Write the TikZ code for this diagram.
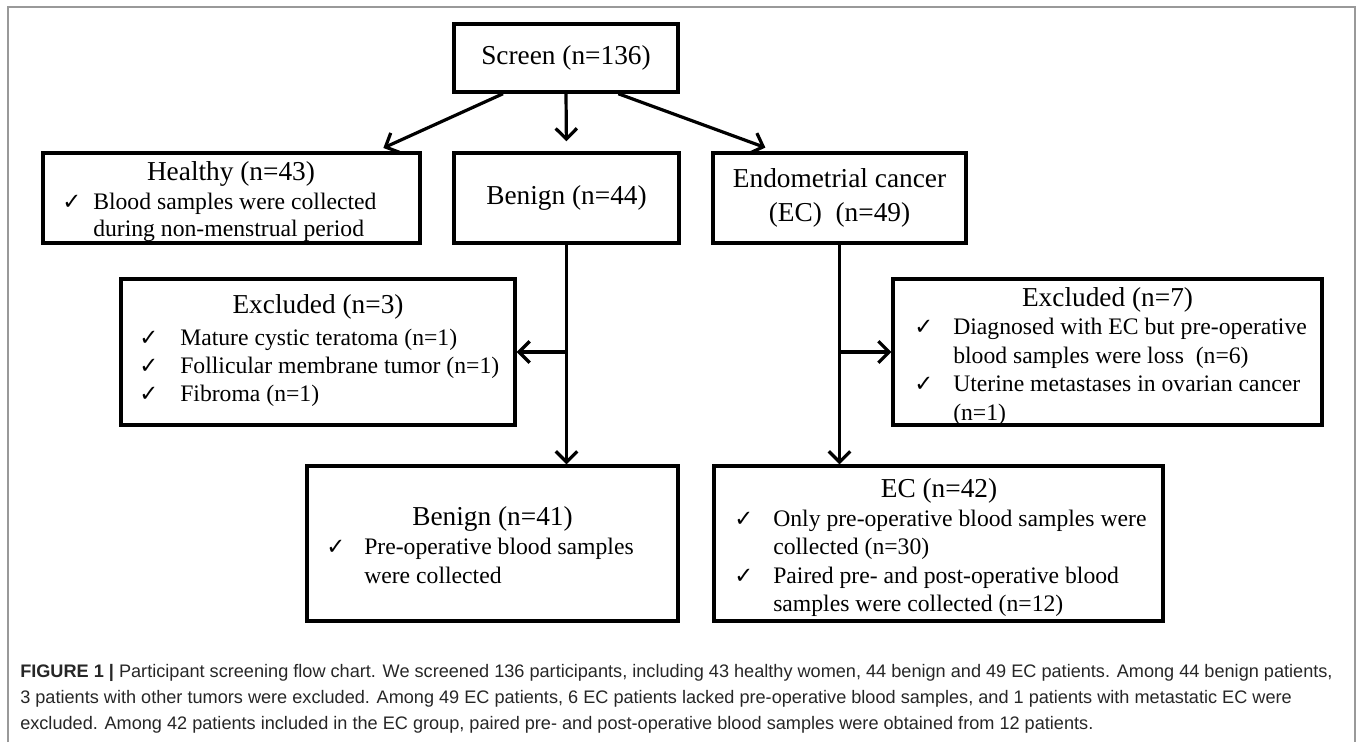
\documentclass[tikz,border=0pt]{standalone}
\usepackage{fontspec}
\setmainfont{Liberation Serif}
\newfontfamily\capfont{Liberation Sans}
\newfontfamily\chkfont{DejaVu Sans}
\usetikzlibrary{arrows.meta,calc}
\newcommand{\ttlsize}{\fontsize{20.5}{24}\selectfont}
\newcommand{\bodysize}{\fontsize{17.75}{21}\selectfont}
\newcommand{\ck}{{\chkfont\fontsize{17}{18}\selectfont ✓}}
\tikzset{
  fbox/.style={draw, line width=2.6pt, inner sep=0pt, rectangle},
  ttltxt/.style={anchor=base, inner sep=0pt, font=\ttlsize},
  bodytxt/.style={anchor=base west, inner sep=0pt, font=\bodysize},
  chkmark/.style={anchor=base west, inner sep=0pt},
  arr/.style={line width=2.4pt, -{Straight Barb[length=8pt,width=16pt]}},
  captxt/.style={anchor=base west, inner sep=0pt, text=black!85, font=\capfont\fontsize{13.6}{16}\selectfont},
}
\begin{document}
\begin{tikzpicture}[x=0.75pt,y=-0.75pt]
\useasboundingbox (0,0) rectangle (1358,742);
% frame
\draw[gray!80, line width=1.1pt] (8,742) -- (8,7) -- (1355,7) -- (1355,742);

% boxes
\node[fbox, minimum width=168pt, minimum height=51pt, font=\ttlsize] (screen) at (566,58) {Screen (n=136)};
\node[fbox, minimum width=282.75pt, minimum height=67.5pt] (healthy) at (231.5,198) {};
\node[fbox, minimum width=168.75pt, minimum height=67.5pt, font=\ttlsize] (benign) at (566.5,198) {Benign (n=44)};
\node[fbox, minimum width=189.75pt, minimum height=67.5pt, font=\ttlsize, align=center] (ec) at (839.5,198) {Endometrial cancer\\[1pt](EC)\ \ (n=49)};
\node[fbox, minimum width=295.5pt, minimum height=109.5pt] (excl3) at (318,352) {};
\node[fbox, minimum width=321.75pt, minimum height=109.5pt] (excl7) at (1107.5,352) {};
\node[fbox, minimum width=278.25pt, minimum height=116.25pt] (b41) at (492.5,543.5) {};
\node[fbox, minimum width=336.75pt, minimum height=116.25pt] (ec42) at (938.5,543.5) {};

% healthy text
\node[ttltxt] (ht) at (231,180.5) {Healthy (n=43)};
\node[chkmark] (hc1) at (62,209.5) {\ck};
\node[bodytxt] (h1) at (93,209.5) {Blood samples were collected};
\node[bodytxt] (h2) at (93,236.5) {during non-menstrual period};

% excluded 3
\node[ttltxt] (e3t) at (318,313.5) {Excluded (n=3)};
\node[chkmark] (e3c1) at (139,345.5) {\ck};
\node[bodytxt] (e31) at (180,345.5) {Mature cystic teratoma (n=1)};
\node[chkmark] (e3c2) at (139,373.5) {\ck};
\node[bodytxt] (e32) at (180,373.5) {Follicular membrane tumor (n=1)};
\node[chkmark] (e3c3) at (139,401.5) {\ck};
\node[bodytxt] (e33) at (180,401.5) {Fibroma (n=1)};

% excluded 7
\node[ttltxt] (e7t) at (1107.5,306.5) {Excluded (n=7)};
\node[chkmark] (e7c1) at (914,334.5) {\ck};
\node[bodytxt] (e71) at (953,334.5) {Diagnosed with EC but pre-operative};
\node[bodytxt] (e72) at (953,363) {blood samples were loss\ \ (n=6)};
\node[chkmark] (e7c2) at (914,391.5) {\ck};
\node[bodytxt] (e73) at (953,391.5) {Uterine metastases in ovarian cancer};
\node[bodytxt] (e74) at (953,420) {(n=1)};

% benign 41
\node[ttltxt] (b4t) at (492.5,525.5) {Benign (n=41)};
\node[chkmark] (b4c1) at (326,554.5) {\ck};
\node[bodytxt] (b41a) at (364,554.5) {Pre-operative blood samples};
\node[bodytxt] (b41b) at (364,583) {were collected};

% EC 42
\node[ttltxt] (c4t) at (939,497.5) {EC (n=42)};
\node[chkmark] (c4c1) at (734,526) {\ck};
\node[bodytxt] (c41) at (773,526) {Only pre-operative blood samples were};
\node[bodytxt] (c42) at (773,554.5) {collected (n=30)};
\node[chkmark] (c4c2) at (734,583) {\ck};
\node[bodytxt] (c43) at (773,583) {Paired pre- and post-operative blood};
\node[bodytxt] (c44) at (773,611.5) {samples were collected (n=12)};

% connectors
\draw[arr, shorten >=6pt] ($(screen.south west)!0.223!(screen.south east)$) -- ($(healthy.north west)!0.88!(healthy.north east)$);
\draw[arr, shorten >=7.5pt] (screen.south) -- (benign.north);
\draw[arr, shorten >=8pt] ($(screen.south west)!0.73!(screen.south east)$) -- ($(ec.north west)!0.25!(ec.north east)$);
\draw[arr] (benign.south) -- (benign.south |- b41.north);
\draw[arr] (benign.south |- excl3.east) -- (excl3.east);
\draw[arr] (ec.south) -- (ec.south |- ec42.north);
\draw[arr] (ec.south |- excl7.west) -- (excl7.west);

% caption
\node[captxt] (cap1) at (20,677) {\textbf{FIGURE 1 |} Participant screening flow chart. We screened 136 participants, including 43 healthy women, 44 benign and 49 EC patients. Among 44 benign patients,};
\node[captxt] (cap2) at (20,703) {3 patients with other tumors were excluded. Among 49 EC patients, 6 EC patients lacked pre-operative blood samples, and 1 patients with metastatic EC were};
\node[captxt] (cap3) at (20,729) {excluded. Among 42 patients included in the EC group, paired pre- and post-operative blood samples were obtained from 12 patients.};
\end{tikzpicture}
\end{document}
